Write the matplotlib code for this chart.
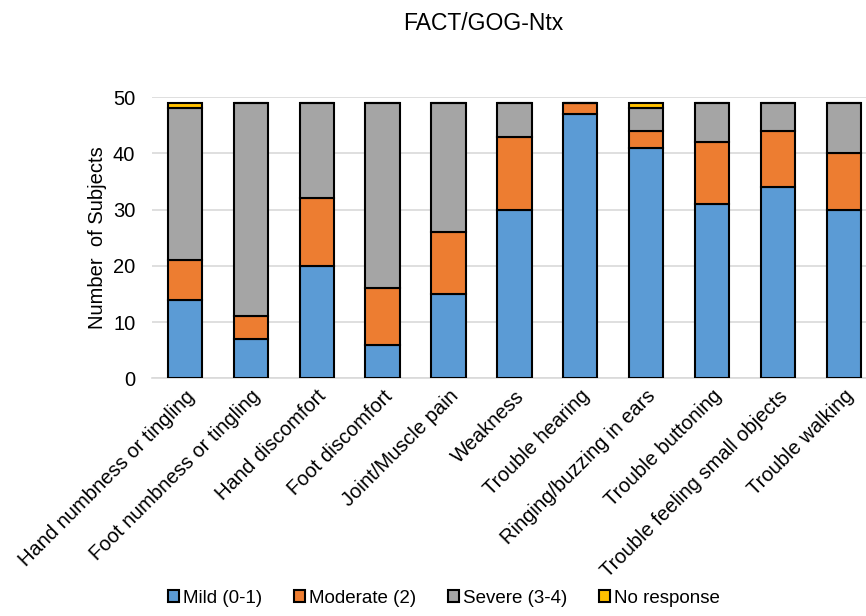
# FACT/GOG-Ntx symptom severity, stacked bars

import numpy as np
import matplotlib.pyplot as plt

plt.rcParams['font.family'] = ['Liberation Sans', 'DejaVu Sans']

categories = ['Hand numbness or tingling', 'Foot numbness or tingling', 'Hand discomfort',
              'Foot discomfort', 'Joint/Muscle pain', 'Weakness', 'Trouble hearing',
              'Ringing/buzzing in ears', 'Trouble buttoning', 'Trouble feeling small objects',
              'Trouble walking']
mild = [14, 7, 20, 6, 15, 30, 47, 41, 31, 34, 30]
moderate = [7, 4, 12, 10, 11, 13, 2, 3, 11, 10, 10]
severe = [27, 38, 17, 33, 23, 6, 0, 4, 7, 5, 9]
no_response = [1, 0, 0, 0, 0, 0, 0, 1, 0, 0, 0]

series = [('Mild (0-1)', mild, '#5B9BD5'),
          ('Moderate (2)', moderate, '#ED7D31'),
          ('Severe (3-4)', severe, '#A5A5A5'),
          ('No response', no_response, '#FFC000')]

fig = plt.figure(figsize=(8.66, 6.16), dpi=100)
ax = fig.add_axes([0.1755, 0.386, 0.837, 0.4562])

x = np.arange(len(categories))
bottom = np.zeros(len(categories))
for label, vals, color in series:
    vals = np.array(vals, dtype=float)
    ax.bar(x, vals, 0.52, bottom=bottom, color=color, edgecolor='black',
           linewidth=1.5, label=label, zorder=3)
    bottom += vals

ax.set_xlim(-0.5, len(categories) - 0.5)
ax.set_ylim(0, 50)
ax.set_yticks(range(0, 51, 10))
ax.yaxis.grid(True, color='#d9d9d9', linewidth=1.2, zorder=0)
for s in ['top', 'right', 'left']:
    ax.spines[s].set_visible(False)
ax.spines['bottom'].set_color('#d9d9d9')
ax.spines['bottom'].set_linewidth(1.2)
ax.tick_params(axis='both', length=0, labelsize=14.5)
ax.tick_params(axis='y', pad=12)
ax.tick_params(axis='x', pad=6)
ax.set_xticks(x)
ax.set_xticklabels(categories, rotation=45, ha='right', rotation_mode='anchor')
ax.set_ylabel('Number  of Subjects', fontsize=14.5, labelpad=4)

fig.text(0.558, 0.962, 'FACT/GOG-Ntx', fontsize=16.5, ha='center', va='center')

ax.legend(loc='center', bbox_to_anchor=(0.5 / 0.837 - 0.1755 / 0.837 + 0.015, (0.029 - 0.386) / 0.4562),
          ncol=4, frameon=False, fontsize=13.5, handlelength=0.6, handleheight=0.6,
          handletextpad=0.2, columnspacing=1.7)

fig.savefig('out.png', dpi=100)
